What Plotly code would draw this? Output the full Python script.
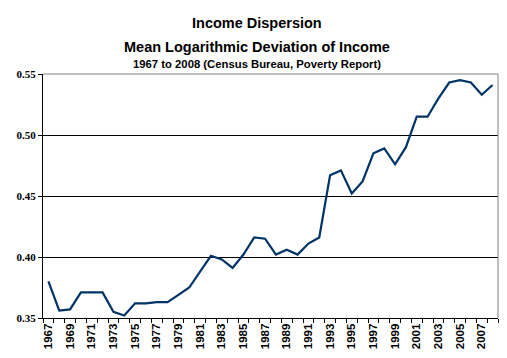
import plotly.graph_objects as go

years = list(range(1967, 2009))
mld = [0.380, 0.356, 0.357, 0.371, 0.371, 0.371, 0.355, 0.352, 0.362, 0.362,
       0.363, 0.363, 0.369, 0.375, 0.388, 0.401, 0.398, 0.391, 0.402, 0.416,
       0.415, 0.402, 0.406, 0.402, 0.411, 0.416, 0.467, 0.471, 0.452, 0.462,
       0.485, 0.489, 0.476, 0.490, 0.515, 0.515, 0.530, 0.543, 0.545, 0.543,
       0.533, 0.541]
label_years = list(range(1967, 2008, 2))
y_ticks = [0.35, 0.40, 0.45, 0.50, 0.55]

title_lines = ["Income Dispersion", "Mean Logarithmic Deviation of Income",
               "1967 to 2008 (Census Bureau, Poverty Report)"]

fig = go.Figure()
fig.add_trace(go.Scatter(x=years, y=mld, mode="lines",
                         line=dict(color="#003366", width=2.2), hoverinfo="x+y"))

# page body has an 8px margin; compensate so the plot lands where the reference has it
OFF = 8
W, H = 507 - OFF, 358 - OFF
L, R, T, B = 36 - OFF, 9, 74 - OFF, 38
ph = H - T - B

def py(p):
    return 1 + (T - (p - OFF)) / ph

annots = []
for txt, yp, sz in zip(title_lines, [23, 47, 63.5], [14.5, 14.5, 11.3]):
    annots.append(dict(text="<b>%s</b>" % txt, x=(253.5 - 36) / (W - L - R), xref="paper",
                       xanchor="center",
                       y=py(yp), yref="paper", yanchor="middle", showarrow=False,
                       font=dict(family="Liberation Sans, Arial", size=sz, color="black")))

fig.update_layout(
    width=W, height=H,
    margin=dict(l=L, r=R, t=T, b=B),
    paper_bgcolor="white", plot_bgcolor="white",
    showlegend=False,
    annotations=annots,
    xaxis=dict(range=[1966.5, 2008.5], tickmode="array", tickvals=label_years,
               ticktext=["<b>%d</b>" % y for y in label_years], tickangle=-90,
               ticks="", ticklen=0, showgrid=False, zeroline=False,
               showline=True, linecolor="black", linewidth=1,
               tickfont=dict(family="Liberation Sans, Arial", size=11.5, color="black"),
               minor=dict(tickmode="array", tickvals=[y - 0.5 for y in range(1967, 2010)],
                          ticks="outside", ticklen=4, tickcolor="black", showgrid=False)),
    yaxis=dict(range=[0.35, 0.55], tickmode="array", tickvals=y_ticks,
               ticktext=["<b>%.2f</b>" % v for v in y_ticks],
               ticks="outside", ticklen=4, tickcolor="black",
               showgrid=True, gridcolor="black", gridwidth=1, zeroline=False,
               showline=True, linecolor="black", linewidth=1,
               tickfont=dict(family="Liberation Serif, Times New Roman", size=11, color="black")),
    shapes=[
        dict(type="line", xref="paper", yref="paper", x0=0, x1=1, y0=1, y1=1,
             line=dict(color="#808080", width=1), layer="above"),
        dict(type="line", xref="paper", yref="paper", x0=1, x1=1, y0=0, y1=1,
             line=dict(color="#808080", width=1), layer="above"),
    ],
)

fig.write_html("out.html")
